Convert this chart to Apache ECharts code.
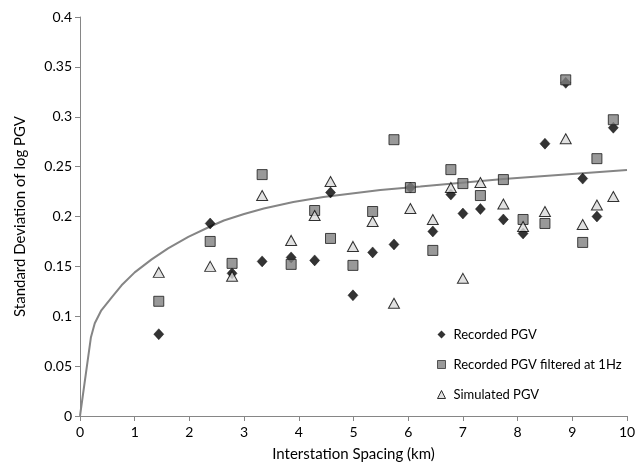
<!DOCTYPE html>
<html><head><meta charset="utf-8">
<script src="https://cdn.jsdelivr.net/npm/echarts@6/dist/echarts.min.js"></script>
<style>html,body{margin:0;padding:0;background:#fff}#c{width:644px;height:471px}</style>
</head><body><div id="c"></div>
<script>
var spacing = [1.44, 2.38, 2.78, 3.33, 3.86, 4.29, 4.58, 4.99, 5.35, 5.74, 6.04, 6.45, 6.78, 7.00, 7.32, 7.74, 8.10, 8.50, 8.88, 9.19, 9.45, 9.75];
var recorded = [0.082, 0.193, 0.143, 0.155, 0.159, 0.156, 0.224, 0.121, 0.164, 0.172, 0.229, 0.185, 0.222, 0.203, 0.2075, 0.197, 0.183, 0.273, 0.334, 0.238, 0.200, 0.289];
var filtered = [0.115, 0.175, 0.153, 0.242, 0.152, 0.206, 0.178, 0.151, 0.205, 0.277, 0.229, 0.166, 0.247, 0.233, 0.221, 0.237, 0.197, 0.193, 0.337, 0.174, 0.258, 0.297];
var simulated = [0.144, 0.150, 0.140, 0.221, 0.176, 0.201, 0.235, 0.170, 0.195, 0.113, 0.208, 0.197, 0.229, 0.138, 0.234, 0.2125, 0.190, 0.205, 0.278, 0.192, 0.2115, 0.220];
var curveX = [0, 0.2, 0.27, 0.39, 0.58, 0.76, 1.0, 1.31, 1.61, 1.98, 2.38, 2.63, 3.0, 3.36, 3.9, 4.45, 5.49, 6.22, 7.74, 10];
var curveY = [0, 0.079, 0.093, 0.106, 0.119, 0.131, 0.144, 0.157, 0.168, 0.1795, 0.190, 0.196, 0.2025, 0.208, 0.2145, 0.2195, 0.2265, 0.230, 0.2375, 0.2467];
var seriesNames = ['Recorded PGV', 'Recorded PGV filtered at 1Hz', 'Simulated PGV'];

function pairs(xs, ys){ return xs.map(function(x,i){ return [x, ys[i]]; }); }
var FONT = 'Lato';
var chart = echarts.init(document.getElementById('c'), null, {renderer:'canvas'});
chart.setOption({
  animation:false,
  backgroundColor:'#fff',
  textStyle:{fontFamily:FONT},
  grid:{left:80, right:17, top:17, bottom:55, containLabel:false},
  legend:{
    orient:'vertical', left:432, top:323, itemGap:17, itemWidth:8, itemHeight:8,
    textStyle:{fontFamily:FONT, fontSize:13, color:'#000', padding:[0,0,0,3]},
    data:[
      {name:seriesNames[0], itemStyle:{color:'#000', borderColor:'#000', borderWidth:0}},
      {name:seriesNames[1], itemStyle:{color:'#7f7f7f', borderColor:'#333', borderWidth:1}},
      {name:seriesNames[2], itemStyle:{color:'#d9d9d9', borderColor:'#000', borderWidth:1}}
    ]
  },
  xAxis:{
    type:'value', min:0, max:10, interval:1,
    name:'Interstation Spacing (km)', nameLocation:'middle', nameGap:31,
    nameTextStyle:{fontFamily:FONT, fontSize:15, color:'#000'},
    axisLine:{show:true, lineStyle:{color:'#868686', width:1}},
    axisTick:{show:true, length:5, lineStyle:{color:'#868686'}},
    axisLabel:{fontFamily:FONT, fontSize:14, color:'#000', margin:9},
    splitLine:{show:false}
  },
  yAxis:{
    type:'value', min:0, max:0.4, interval:0.05,
    name:'Standard Deviation of log PGV', nameLocation:'middle', nameGap:52,
    nameTextStyle:{fontFamily:FONT, fontSize:15, color:'#000'},
    axisLine:{show:true, lineStyle:{color:'#868686', width:1}},
    axisTick:{show:true, length:5, lineStyle:{color:'#868686'}},
    axisLabel:{fontFamily:FONT, fontSize:14, color:'#000', margin:8,
      formatter:function(v){ return String(+v.toFixed(2)); }},
    splitLine:{show:false}
  },
  series:[
    {type:'line', name:'trend', data:pairs(curveX, curveY), showSymbol:false, symbol:'none',
     smooth:false, lineStyle:{color:'#858585', width:2}, z:1},
    {type:'scatter', name:seriesNames[0], data:pairs(spacing, recorded), symbol:'diamond', symbolSize:[10,11],
     itemStyle:{color:'#000', borderColor:'#000', borderWidth:0.5}, z:2},
    {type:'scatter', name:seriesNames[1], data:pairs(spacing, filtered), symbol:'rect', symbolSize:[10,10],
     itemStyle:{color:'#7f7f7f', borderColor:'#1a1a1a', borderWidth:1}, z:3},
    {type:'scatter', name:seriesNames[2], data:pairs(spacing, simulated), symbol:'triangle', symbolSize:[11,10],
     itemStyle:{color:'#d9d9d9', borderColor:'#000', borderWidth:1}, z:4}
  ]
});
</script></body></html>
